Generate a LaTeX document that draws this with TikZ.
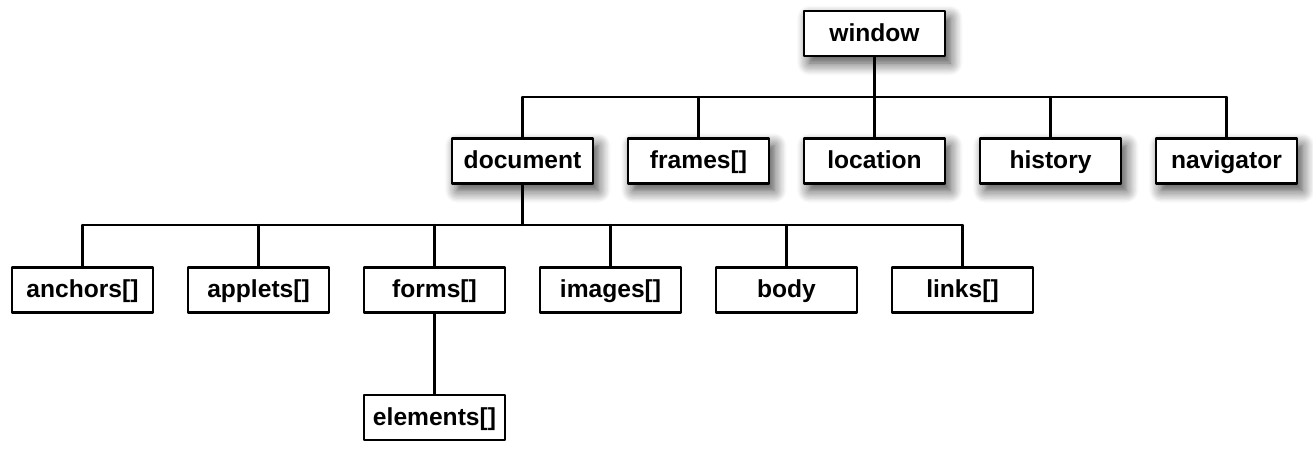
\documentclass[tikz,border=0pt]{standalone}
\usepackage{fontspec}
\setmainfont{Liberation Sans}
\usetikzlibrary{shadows.blur}
\begin{document}
\begin{tikzpicture}[x=0.02cm, y=-0.02cm, font=\fontsize{14}{16}\selectfont\bfseries, line join=round, line cap=round,
		obj/.style={draw, line width=1.4pt, fill=white, minimum width=2.82cm, minimum height=0.9cm, inner sep=0pt, text height=1.9ex, text depth=0.25ex},
		objshadow/.style={obj, blur shadow={shadow xshift=3pt, shadow yshift=-4pt, shadow blur radius=7pt, shadow blur steps=10, shadow opacity=75}}]
		\def\dx{176} % khoảng cách giữa các hộp
		\useasboundingbox (0,0) rectangle (1313,457);
		\node[objshadow] (window) at (874.5,33.5) {window};
		\foreach \n/\t [count=\i from 0] in {document/document, frames/{frames[]}, location/location, history/history, navigator/navigator}
			\node[objshadow] (\n) at (522.5+\dx*\i,161) {\t};
		\foreach \n/\t [count=\i from 0] in {anchors/{anchors[]}, applets/{applets[]}, forms/{forms[]}, images/{images[]}, body/body, links/{links[]}}
			\node[obj] (\n) at (82.5+\dx*\i,290) {\t};
		\node[obj] (elements) at (434.5,417.5) {elements[]};
		\coordinate (busA) at (874.5,97);
		\coordinate (busB) at (522.5,225);
		\draw[line width=1.2pt] (window) -- (busA) (document |- busA) -- (navigator |- busA);
		\foreach \n in {document, frames, location, history, navigator}
			\draw[line width=1.2pt] (\n) -- (\n |- busA);
		\draw[line width=1.2pt] (document) -- (busB) (anchors |- busB) -- (links |- busB);
		\foreach \n in {anchors, applets, forms, images, body, links}
			\draw[line width=1.2pt] (\n) -- (\n |- busB);
		\draw[line width=1.2pt] (forms) -- (elements);
\end{tikzpicture}
\end{document}
